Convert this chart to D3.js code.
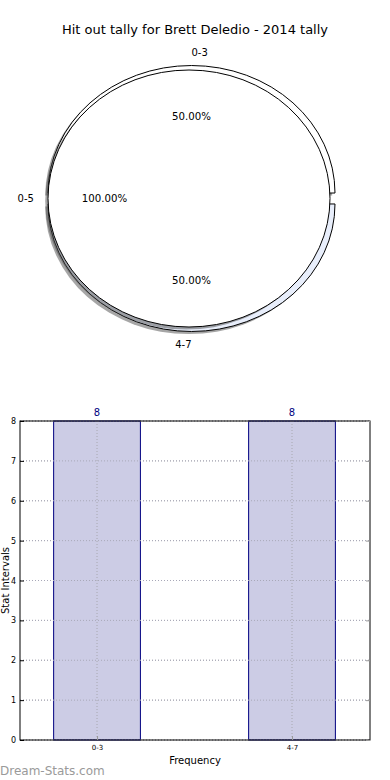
<!DOCTYPE html>
<html>
<head>
<meta charset="utf-8">
<script src="https://cdn.jsdelivr.net/npm/d3@7"></script>
<style>
  body { margin: 0; background: #fff; }
  svg { display: block; font-family: "DejaVu Sans", sans-serif; }
</style>
</head>
<body>
<div id="chart"></div>
<script>
// chart data
var title = "Hit out tally for Brett Deledio - 2014 tally";
var totalLabels = ["0-5"];
var totalValues = [8];
var splitLabels = ["0-3", "4-7"];
var splitValues = [8, 8];
var barLabels = ["0-3", "4-7"];
var barValues = [8, 8];
var yTicks = [0, 1, 2, 3, 4, 5, 6, 7, 8];

var W = 390, H = 780;
var svg = d3.select("#chart").append("svg")
    .attr("width", W)
    .attr("height", H);

svg.append("text")
    .attr("x", 195).attr("y", 34)
    .attr("text-anchor", "middle")
    .style("font-size", "13px")
    .text(title);

// --- pie part (two overlaid pies, like the original) ---
var unitArc = d3.arc().innerRadius(0).outerRadius(1);
var wedgeLayer = svg.append("g");
var textLayer = svg.append("g");   // texts always on top of wedges

// start at 3 o'clock and go counter-clockwise
function pieLayout(values) {
    return d3.pie().sort(null)
        .startAngle(Math.PI / 2)
        .endAngle(Math.PI / 2 - 2 * Math.PI)(values);
}

function fmtPct(v, total) {
    return (v / total * 100).toFixed(2) + "%";
}

function drawPie(values, labels, opts) {
    var total = d3.sum(values);
    var arcs = pieLayout(values);
    var g = wedgeLayer.append("g");

    arcs.forEach(function(d, i) {
        var mid = (d.startAngle + d.endAngle) / 2;
        var ex = opts.explode[i] || 0;
        var cx = opts.cx + Math.sin(mid) * ex * opts.rx;
        var cy = opts.cy - Math.cos(mid) * ex * opts.ry;

        // shadow
        g.append("path")
            .attr("d", unitArc(d))
            .attr("transform", `translate(${cx - 2.8}, ${cy + 2.6}) scale(${opts.rx}, ${opts.ry})`)
            .attr("fill", "#4d4d4d")
            .attr("fill-opacity", 0.5);

        g.append("path")
            .attr("d", unitArc(d))
            .attr("transform", `translate(${cx}, ${cy}) scale(${opts.rx}, ${opts.ry})`)
            .attr("fill", opts.colors[i % opts.colors.length])
            .attr("stroke", "#000")
            .attr("stroke-width", 1)
            .attr("vector-effect", "non-scaling-stroke");

        // labels like matplotlib: outside at 1.1 r, pct at 0.6 r
        var lx = cx + Math.sin(mid) * 1.1 * opts.rx;
        var ly = cy - Math.cos(mid) * 1.1 * opts.ry;
        var anchor = Math.sin(mid) > 1e-9 ? "start" : "end";
        if (Math.abs(Math.sin(mid)) < 1e-9) anchor = Math.cos(mid) > 0 ? "start" : "end";
        textLayer.append("text")
            .attr("x", lx).attr("y", ly)
            .attr("dy", "0.35em")
            .attr("text-anchor", anchor)
            .style("font-size", "10px")
            .text(labels[i]);

        textLayer.append("text")
            .attr("x", cx + Math.sin(mid) * 0.6 * opts.rx)
            .attr("y", cy - Math.cos(mid) * 0.6 * opts.ry)
            .attr("dy", "0.35em")
            .attr("text-anchor", "middle")
            .style("font-size", "10.2px")
            .text(fmtPct(values[i], total));
    });
}

drawPie(splitValues, splitLabels, {
    cx: 191.5, cy: 198.5, rx: 143.5, ry: 127.5,
    explode: [0.043, 0.043],
    colors: ["#ffffff", "#e8eefb"]
});
drawPie(totalValues, totalLabels, {
    cx: 189, cy: 198.5, rx: 141, ry: 128.5,
    explode: [0],
    colors: ["#ffffff"]
});
textLayer.raise();

// --- bar part ---
var m = { left: 20, right: 370, top: 421, bottom: 740 };

var x = d3.scaleLinear().domain([-0.395, 1.4]).range([m.left, m.right]);
var y = d3.scaleLinear().domain([0, 8]).range([m.bottom, m.top]);
var barW = 0.445;

var bars = svg.append("g");

// grid lines
bars.selectAll(".hgrid")
    .data(yTicks)
    .enter().append("line")
    .attr("x1", m.left).attr("x2", m.right)
    .attr("y1", d => y(d)).attr("y2", d => y(d))
    .attr("stroke", "#b0b0b0")
    .attr("stroke-dasharray", "1,2");

bars.selectAll(".bar")
    .data(barValues)
    .enter().append("rect")
    .attr("x", (d, i) => x(i - barW / 2))
    .attr("y", d => y(d))
    .attr("width", (d, i) => x(i + barW / 2) - x(i - barW / 2))
    .attr("height", d => y(0) - y(d))
    .attr("fill", "#ccccE5")
    .attr("stroke", "#000080")
    .attr("stroke-width", 1);

// horizontal grid again over bars
bars.selectAll(".hgrid2")
    .data(yTicks)
    .enter().append("line")
    .attr("x1", m.left).attr("x2", m.right)
    .attr("y1", d => y(d)).attr("y2", d => y(d))
    .attr("stroke", "#a8a8b8")
    .attr("stroke-dasharray", "1,2");

bars.selectAll(".vgrid")
    .data(barLabels)
    .enter().append("line")
    .attr("x1", (d, i) => x(i)).attr("x2", (d, i) => x(i))
    .attr("y1", m.top).attr("y2", m.bottom)
    .attr("stroke", "#a8a8b0")
    .attr("stroke-dasharray", "1,2");

// value labels
bars.selectAll(".val")
    .data(barValues)
    .enter().append("text")
    .attr("x", (d, i) => x(i))
    .attr("y", d => y(d) - 5)
    .attr("text-anchor", "middle")
    .attr("fill", "#000080")
    .style("font-size", "10px")
    .text(d => d);

// frame
bars.append("rect")
    .attr("x", m.left).attr("y", m.top)
    .attr("width", m.right - m.left).attr("height", m.bottom - m.top)
    .attr("fill", "none")
    .attr("stroke", "#000")
    .attr("stroke-width", 1);

// axes
var yAxis = d3.axisLeft(y).tickValues(yTicks).tickSize(-4).tickPadding(4);
var yg = bars.append("g")
    .attr("transform", `translate(${m.left},0)`)
    .call(yAxis);
yg.select(".domain").remove();
yg.selectAll("text").style("font-size", "8px").style("font-family", "DejaVu Sans");

var yg2 = bars.append("g")
    .attr("transform", `translate(${m.right},0)`)
    .call(d3.axisRight(y).tickValues(yTicks).tickSize(-4).tickFormat(""));
yg2.select(".domain").remove();
yg2.selectAll("line").attr("stroke", "#999");

var xAxis = d3.axisBottom(x).tickValues([0, 1])
    .tickFormat((d, i) => barLabels[i]).tickSize(-4).tickPadding(5);
var xg = bars.append("g")
    .attr("transform", `translate(0,${m.bottom})`)
    .call(xAxis);
xg.select(".domain").remove();
xg.selectAll("line").attr("stroke", "#999");
xg.selectAll("text").style("font-size", "7px").style("font-family", "DejaVu Sans");

svg.append("text")
    .attr("transform", `translate(9, ${(m.top + m.bottom) / 2}) rotate(-90)`)
    .attr("text-anchor", "middle")
    .style("font-size", "10px")
    .text("Stat Intervals");

svg.append("text")
    .attr("x", (m.left + m.right) / 2).attr("y", 764)
    .attr("text-anchor", "middle")
    .style("font-size", "10px")
    .text("Frequency");

svg.append("text")
    .attr("x", 0).attr("y", 775)
    .attr("fill", "#9a9a9a")
    .style("font-size", "12px")
    .text("Dream-Stats.com");
</script>
</body>
</html>
